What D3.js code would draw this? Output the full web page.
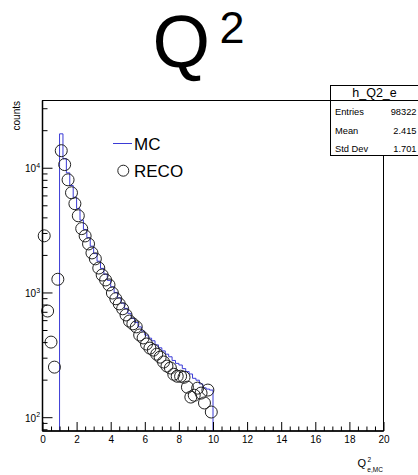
<!DOCTYPE html>
<html>
<head>
<meta charset="utf-8">
<script src="https://cdn.jsdelivr.net/npm/d3@7"></script>
<style>
  body { margin: 0; background: #fff; }
  text { font-family: "Liberation Sans", Arial, Helvetica, sans-serif; }
</style>
</head>
<body>
<svg id="chart" width="418" height="475"></svg>
<script>
// ---- histogram contents ----
const binWidth = 0.2;

// MC histogram (h_Q2_e), bin centres and counts
const mcBinCenters = [1.1,1.3,1.5,1.7,1.9,2.1,2.3,2.5,2.7,2.9,3.1,3.3,3.5,3.7,3.9,4.1,4.3,4.5,4.7,4.9,
  5.1,5.3,5.5,5.7,5.9,6.1,6.3,6.5,6.7,6.9,7.1,7.3,7.5,7.7,7.9,8.1,8.3,8.5,8.7,8.9,9.1,9.3,9.5,9.7,9.9];
const mcCounts = [18700,11800,9100,7200,5800,4700,3800,3200,2750,2350,2050,1780,1560,1400,1250,1110,1000,905,820,745,
  680,620,575,530,490,455,430,410,380,360,340,320,305,285,270,262,245,232,222,205,198,185,172,168,165];

// RECO points, bin centres and counts
const recoBinCenters = [0.1,0.3,0.5,0.7,0.9,1.1,1.3,1.5,1.7,1.9,2.1,2.3,2.5,2.7,2.9,3.1,3.3,3.5,3.7,3.9,4.1,4.3,4.5,4.7,4.9,
  5.1,5.3,5.5,5.7,5.9,6.1,6.3,6.5,6.7,6.9,7.1,7.3,7.5,7.7,7.9,8.1,8.3,8.5,8.7,8.9,9.1,9.3,9.5,9.7,9.9];
const recoCounts = [2845,710,400,252,1276,13700,10600,8000,6300,5150,4120,3250,2840,2450,2075,1860,1570,1380,1260,1150,
  990,890,810,740,660,590,560,530,456,432,386,358,345,320,303,277,257,248,221,213,213,209,174,145,150,171,156,130,165,110];

// axes
const xRange = [0, 20];
const yRange = [77.5, 34600];
const xMajorTicks = [0,2,4,6,8,10,12,14,16,18,20];
const yMajorTicks = [100, 1000, 10000];
const yTickExponents = ["2", "3", "4"];

// stats box
const statsTitle = "h_Q2_e";
const statsLabels = ["Entries", "Mean", "Std Dev"];
const statsValues = ["98322", "2.415", "1.701"];

// legend
const legendLabels = ["MC", "RECO"];

// ---- drawing ----
const svg = d3.select("#chart");
const frame = { left: 42.5, right: 383.5, top: 100.5, bottom: 431 };

const x = d3.scaleLinear().domain(xRange).range([frame.left, frame.right]);
const y = d3.scaleLog().domain(yRange).range([frame.bottom, frame.top]);

const mcColor = "#3b3bd6";
const markColor = "#222";

// title
svg.append("text").attr("x", 152.5).attr("y", 67).attr("font-size", 74).attr("fill", "#000").text("Q");
svg.append("text").attr("x", 219.5).attr("y", 43).attr("font-size", 45).attr("fill", "#000").text("2");

// frame
svg.append("rect")
  .attr("x", frame.left).attr("y", frame.top)
  .attr("width", frame.right - frame.left).attr("height", frame.bottom - frame.top)
  .attr("fill", "none").attr("stroke", "#000").attr("stroke-width", 1);

// MC histogram outline
const mcPts = [[x(mcBinCenters[0] - binWidth / 2), frame.bottom]];
mcBinCenters.forEach((c, i) => {
  mcPts.push([x(c - binWidth / 2), y(mcCounts[i])]);
  mcPts.push([x(c + binWidth / 2), y(mcCounts[i])]);
});
mcPts.push([x(mcBinCenters[mcBinCenters.length - 1] + binWidth / 2), frame.bottom]);
svg.append("path")
  .attr("d", d3.line()(mcPts))
  .attr("fill", "none").attr("stroke", mcColor).attr("stroke-width", 1);

// RECO markers
svg.append("g").selectAll("circle")
  .data(recoBinCenters.map((c, i) => [c, recoCounts[i]]))
  .join("circle")
  .attr("cx", d => x(d[0])).attr("cy", d => y(d[1])).attr("r", 6)
  .attr("fill", "none").attr("stroke", markColor).attr("stroke-width", 1);

// x axis
const xMinorTicks = d3.range(0, 20.001, 0.5).filter(v => !xMajorTicks.includes(v));
const gx = svg.append("g").attr("transform", `translate(0,${frame.bottom})`);
gx.call(d3.axisBottom(x).tickValues(xMajorTicks).tickSize(-9).tickPadding(5).tickFormat(d3.format("d")));
gx.append("g").call(d3.axisBottom(x).tickValues(xMinorTicks).tickSize(-4.5).tickFormat(""));
gx.selectAll(".domain").remove();
gx.selectAll("line").attr("stroke", "#000");
gx.selectAll("text").attr("font-size", 10).attr("fill", "#000")
  .attr("font-family", "'Liberation Sans', Arial, sans-serif");

// y axis
const yMinorTicks = [];
[10, 100, 1000, 10000].forEach(d => { for (let m = 2; m <= 9; m++) { const v = m * d; if (v >= yRange[0] && v <= yRange[1]) yMinorTicks.push(v); } });
const gy = svg.append("g").attr("transform", `translate(${frame.left},0)`);
gy.call(d3.axisLeft(y).tickValues(yMajorTicks).tickSize(-10).tickFormat(""));
gy.append("g").call(d3.axisLeft(y).tickValues(yMinorTicks).tickSize(-5).tickFormat(""));
gy.selectAll(".domain").remove();
gy.selectAll("line").attr("stroke", "#000");

yMajorTicks.forEach((v, i) => {
  svg.append("text").attr("x", 36).attr("y", y(v) + 4.5).attr("text-anchor", "end")
    .attr("font-size", 10).attr("fill", "#000").text("10");
  svg.append("text").attr("x", 36.3).attr("y", y(v) + 0.3)
    .attr("font-size", 7).attr("fill", "#000").text(yTickExponents[i]);
});

// axis lines
svg.append("line").attr("x1", frame.left).attr("x2", frame.left).attr("y1", frame.top).attr("y2", frame.bottom)
  .attr("stroke", "#000").attr("stroke-width", 1.5);
svg.append("line").attr("x1", frame.left).attr("x2", frame.right).attr("y1", frame.bottom).attr("y2", frame.bottom)
  .attr("stroke", "#000").attr("stroke-width", 1.5);

// axis titles
svg.append("text").attr("transform", "translate(19.5,101) rotate(-90)").attr("text-anchor", "end")
  .attr("font-size", 10).attr("fill", "#000").text("counts");
svg.append("text").attr("x", 357.5).attr("y", 467).attr("font-size", 11).attr("fill", "#000").text("Q");
svg.append("text").attr("x", 367.5).attr("y", 462).attr("font-size", 6.5).attr("fill", "#000").text("2");
svg.append("text").attr("x", 367.3).attr("y", 471.5).attr("font-size", 6.5).attr("fill", "#000").text("e,MC");

// legend
svg.append("line").attr("x1", 113).attr("x2", 132).attr("y1", 143.5).attr("y2", 143.5)
  .attr("stroke", mcColor).attr("stroke-width", 1);
svg.append("text").attr("x", 134).attr("y", 149.5).attr("font-size", 17).attr("fill", "#000").text(legendLabels[0]);
svg.append("circle").attr("cx", 123.3).attr("cy", 170.7).attr("r", 5.5)
  .attr("fill", "none").attr("stroke", markColor).attr("stroke-width", 1);
svg.append("text").attr("x", 134).attr("y", 177).attr("font-size", 17).attr("fill", "#000").text(legendLabels[1]);

// stats box
const sb = svg.append("g");
sb.append("rect").attr("x", 330.5).attr("y", 85.5).attr("width", 90).attr("height", 70)
  .attr("fill", "#fff").attr("stroke", "#000").attr("stroke-width", 1);
sb.append("line").attr("x1", 330.5).attr("x2", 420).attr("y1", 100.5).attr("y2", 100.5)
  .attr("stroke", "#000").attr("stroke-width", 1);
sb.append("text").attr("x", 374.5).attr("y", 97.3).attr("text-anchor", "middle")
  .attr("font-size", 12.5).attr("fill", "#000").text(statsTitle);
const rowBase = [115, 134.3, 152.3];
statsLabels.forEach((lab, i) => {
  sb.append("text").attr("x", 335).attr("y", rowBase[i]).attr("font-size", 9.3).attr("fill", "#000").text(lab);
  sb.append("text").attr("x", 416.5).attr("y", rowBase[i]).attr("text-anchor", "end")
    .attr("font-size", 9.3).attr("fill", "#000").text(statsValues[i]);
});
</script>
</body>
</html>
